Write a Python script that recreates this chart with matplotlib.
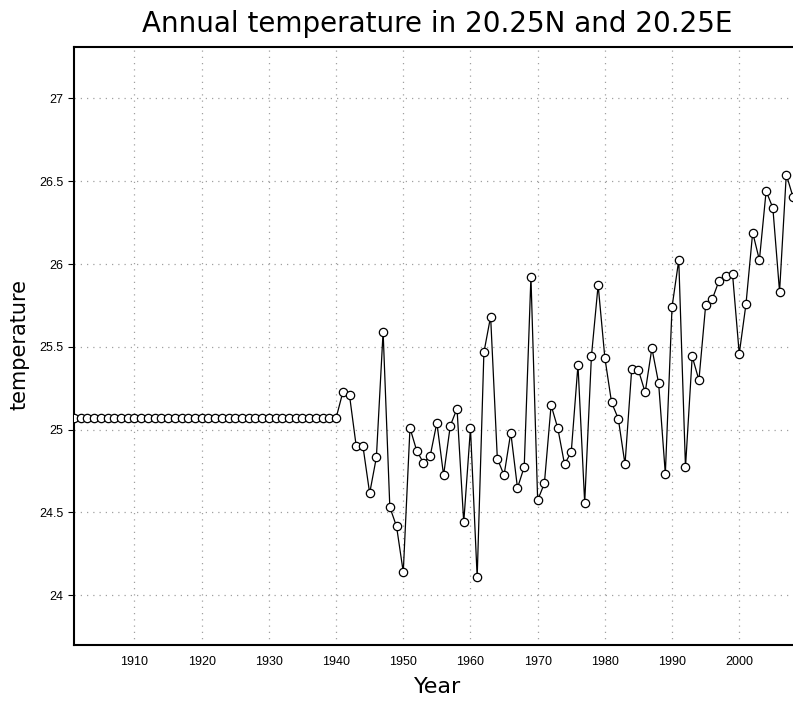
import numpy as np
import matplotlib
matplotlib.use('Agg')
import matplotlib.pyplot as plt

# --- data ---
years = list(range(1901, 2009))
temps = [
    25.07, 25.07, 25.07, 25.07, 25.07, 25.07, 25.07, 25.07, 25.07, 25.07,  # 1901-1910
    25.07, 25.07, 25.07, 25.07, 25.07, 25.07, 25.07, 25.07, 25.07, 25.07,  # 1911-1920
    25.07, 25.07, 25.07, 25.07, 25.07, 25.07, 25.07, 25.07, 25.07, 25.07,  # 1921-1930
    25.07, 25.07, 25.07, 25.07, 25.07, 25.07, 25.07, 25.07, 25.07, 25.07,  # 1931-1940
    25.225, 25.207, 24.90, 24.90, 24.616, 24.833, 25.592, 24.532, 24.416, 24.14,  # 1941-1950
    25.01, 24.873, 24.80, 24.84, 25.042, 24.725, 25.024, 25.127, 24.44, 25.008,  # 1951-1960
    24.108, 25.466, 25.683, 24.825, 24.725, 24.982, 24.648, 24.775, 25.923, 24.574,  # 1961-1970
    24.675, 25.148, 25.008, 24.791, 24.865, 25.391, 24.558, 25.442, 25.873, 25.434,  # 1971-1980
    25.164, 25.066, 24.791, 25.367, 25.359, 25.225, 25.492, 25.281, 24.733, 25.741,  # 1981-1990
    26.024, 24.773, 25.442, 25.299, 25.75, 25.789, 25.90, 25.925, 25.94, 25.458,  # 1991-2000
    25.757, 26.19, 26.024, 26.44, 26.339, 25.833, 26.54, 26.405,  # 2001-2008
]
x_ticks = [1910, 1920, 1930, 1940, 1950, 1960, 1970, 1980, 1990, 2000]
y_ticks = [24, 24.5, 25, 25.5, 26, 26.5, 27]
y_ticklabels = ['24', '24.5', '25', '25.5', '26', '26.5', '27']

# --- plotting ---
plt.rcParams['font.family'] = ['Liberation Sans', 'DejaVu Sans']

fig = plt.figure(figsize=(7.93, 7.04), dpi=100)
ax = fig.add_axes([74 / 793, 1 - 645 / 704, 1 - 74 / 793, (645 - 47) / 704])

ax.plot(years, temps, color='black', linewidth=0.9, marker='o', markersize=6,
        markerfacecolor='white', markeredgecolor='black', markeredgewidth=0.9,
        zorder=3)

ax.set_xlim(1901, 2008)
ax.set_ylim(23.7, 27.31)
ax.set_xticks(x_ticks)
ax.set_yticks(y_ticks)
ax.set_yticklabels(y_ticklabels)
ax.tick_params(axis='x', length=0, pad=8, labelsize=9)
ax.tick_params(axis='y', length=4, width=0.8, direction='out', labelsize=9)
ax.grid(True, color='#a0a0a0', linestyle=(0, (1, 4)), linewidth=0.9)

for s in ['left', 'bottom', 'top']:
    ax.spines[s].set_linewidth(1.5)
ax.spines['right'].set_visible(False)

label_font = ['DejaVu Sans']
fig.text(0.552, 0.024, 'Year', ha='center', va='center', fontsize=16,
         family=label_font, color='black')
fig.text(0.025, 0.51, 'temperature', ha='center', va='center', fontsize=15,
         rotation=90, family=label_font, color='black')
fig.text(0.551, 0.966, 'Annual temperature in 20.25N and 20.25E', ha='center',
         va='center', fontsize=20, family=label_font, color='black')

fig.savefig('out.png', dpi=100)
